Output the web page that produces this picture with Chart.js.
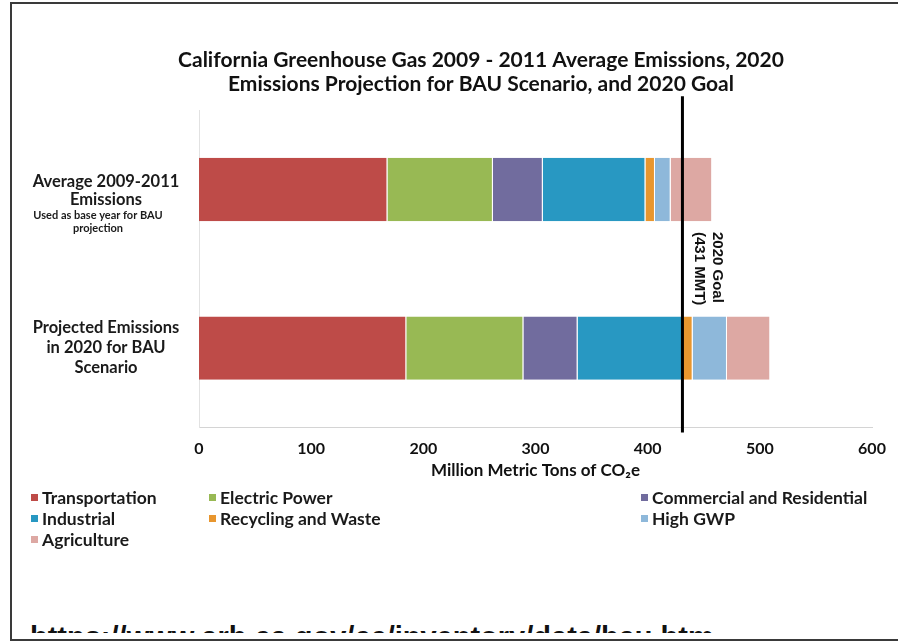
<!DOCTYPE html>
<html>
<head>
<meta charset="utf-8">
<script src="https://cdn.jsdelivr.net/npm/chart.js@4.4.1/dist/chart.umd.min.js"></script>
<style>
  body { margin: 0; width: 898px; height: 641px; overflow: hidden; background: #fff; position: relative; }
  #frame { position: absolute; left: 10px; top: 2px; width: 900px; height: 635px; border: 2px solid #3a3a3a; border-right: none; }
  #wrap { position: absolute; left: 0; top: 0; width: 898px; height: 493px; }
  #legend { position: absolute; left: 31px; top: 487px; display: grid; grid-template-columns: 178px 432px auto; }
  .item { display: flex; align-items: center; height: 21px; font: bold 17.5px Lato, sans-serif; color: #1a1a1a; }
  .item i { display: inline-block; width: 7px; height: 7px; margin-right: 4px; }
  #src { position: absolute; left: 30px; top: 600px; width: 860px; height: 33px; overflow: hidden; }
  #src div { position: absolute; left: 0; top: 23px; font: bold 29px/29px "Liberation Sans", sans-serif; white-space: nowrap; color: #111; }
</style>
</head>
<body>
<div id="frame"></div>
<div id="wrap"><canvas id="chart"></canvas></div>
<div id="legend"></div>
<div id="src"><div>https://www.arb.ca.gov/cc/inventory/data/bau.htm</div></div>
<script>
// data (MMT CO2e)
const categories = ["Average 2009-2011 Emissions", "Projected Emissions in 2020 for BAU Scenario"]
const categoryLines = [["Average 2009-2011", "Emissions"], ["Projected Emissions", "in 2020 for BAU", "Scenario"]]
const categoryNotes = [["Used as base year for BAU", "projection"], []]
const sectors = ["Transportation", "Electric Power", "Commercial and Residential", "Industrial", "Recycling and Waste", "High GWP", "Agriculture"]
const transportation = [168, 184.8]
const electricPower = [94, 104.4]
const commercialResidential = [44.5, 48.3]
const industrial = [91.5, 93.6]
const recyclingWaste = [8.5, 9.0]
const highGWP = [14, 30.6]
const agriculture = [37, 38.6]
const goal = 431
const goalLabel = ["2020 Goal", "(431 MMT)"]
const xMax = 600
const xStep = 100

const colors = ["#be4b48", "#98b954", "#716c9e", "#2898c2", "#e8962e", "#8eb8da", "#dda8a3"]
const series = [transportation, electricPower, commercialResidential, industrial, recyclingWaste, highGWP, agriculture]

const legend = document.querySelector("#legend")
sectors.forEach((s, i) => {
  legend.innerHTML += `<div class="item"><i style="background:${colors[i]}"></i>${s}</div>`
})

const overlay = {
  id: "overlay",
  afterDatasetsDraw(chart) {
    const { ctx, chartArea, scales } = chart
    const x = scales.x.getPixelForValue(goal)
    ctx.save()
    ctx.strokeStyle = "#000"
    ctx.lineWidth = 3
    ctx.beginPath()
    ctx.moveTo(x, chartArea.top - 14)
    ctx.lineTo(x, chartArea.bottom + 5)
    ctx.stroke()

    ctx.fillStyle = "#111"
    ctx.font = "bold 15px 'Liberation Sans', Arial, sans-serif"
    ctx.textBaseline = "middle"
    ctx.textAlign = "left"
    ctx.translate(x, 232)
    ctx.rotate(Math.PI / 2)
    ctx.fillText(goalLabel[0], 0, -35)
    ctx.fillText(goalLabel[1], 0, -17)
    ctx.restore()

    // category labels
    ctx.save()
    ctx.fillStyle = "#1a1a1a"
    ctx.textAlign = "center"
    ctx.textBaseline = "middle"
    categories.forEach((c, i) => {
      const y = scales.y.getPixelForValue(i)
      const lines = categoryLines[i]
      const notes = categoryNotes[i]
      const start = notes.length ? y - 7.5 : y - (lines.length - 1) * 10
      const step = notes.length ? 18 : 20
      ctx.font = "bold 16.5px Lato, sans-serif"
      lines.forEach((l, j) => ctx.fillText(l, 106, start + j * step))
      ctx.font = "bold 11px Lato, sans-serif"
      notes.forEach((l, j) => ctx.fillText(l, 98, y + 25.5 + j * 13))
    })
    ctx.restore()
  },
}

new Chart(document.querySelector("#chart"), {
  type: "bar",
  data: {
    labels: categories,
    datasets: series.map((d, i) => ({
      label: sectors[i],
      data: d,
      backgroundColor: colors[i],
      borderColor: "#ffffff",
      borderWidth: { right: 1 },
      borderSkipped: false,
      categoryPercentage: 0.8,
      barPercentage: 0.5,
    })),
  },
  options: {
    indexAxis: "y",
    responsive: true,
    maintainAspectRatio: false,
    animation: false,
    layout: { padding: { left: 90, right: 26, top: 0, bottom: 12 } },
    plugins: {
      legend: { display: false },
      tooltip: { enabled: false },
      title: {
        display: true,
        text: ["California Greenhouse Gas 2009 - 2011 Average Emissions, 2020", "Emissions Projection for BAU Scenario, and 2020 Goal"],
        font: { family: "Lato", weight: "bold", size: 21, lineHeight: 1.15 },
        color: "#111",
        padding: { top: 48, bottom: 14 },
      },
    },
    scales: {
      x: {
        stacked: true,
        min: 0,
        max: xMax,
        grid: { display: false, drawTicks: false },
        border: { color: "#d4d4d4" },
        ticks: { stepSize: xStep, padding: 12, color: "#111", font: { family: "Lato", weight: "bold", size: 16 } },
        title: {
          display: true,
          text: "Million Metric Tons of CO₂e",
          color: "#111",
          font: { family: "Lato", weight: "bold", size: 17 },
          padding: { top: -10, bottom: 0 },
        },
      },
      y: {
        stacked: true,
        grid: { display: false, drawTicks: false },
        border: { color: "#e2e2e2" },
        ticks: { display: false },
        afterFit(scale) { scale.width = 109 },
      },
    },
  },
  plugins: [overlay],
})
</script>
</body>
</html>
